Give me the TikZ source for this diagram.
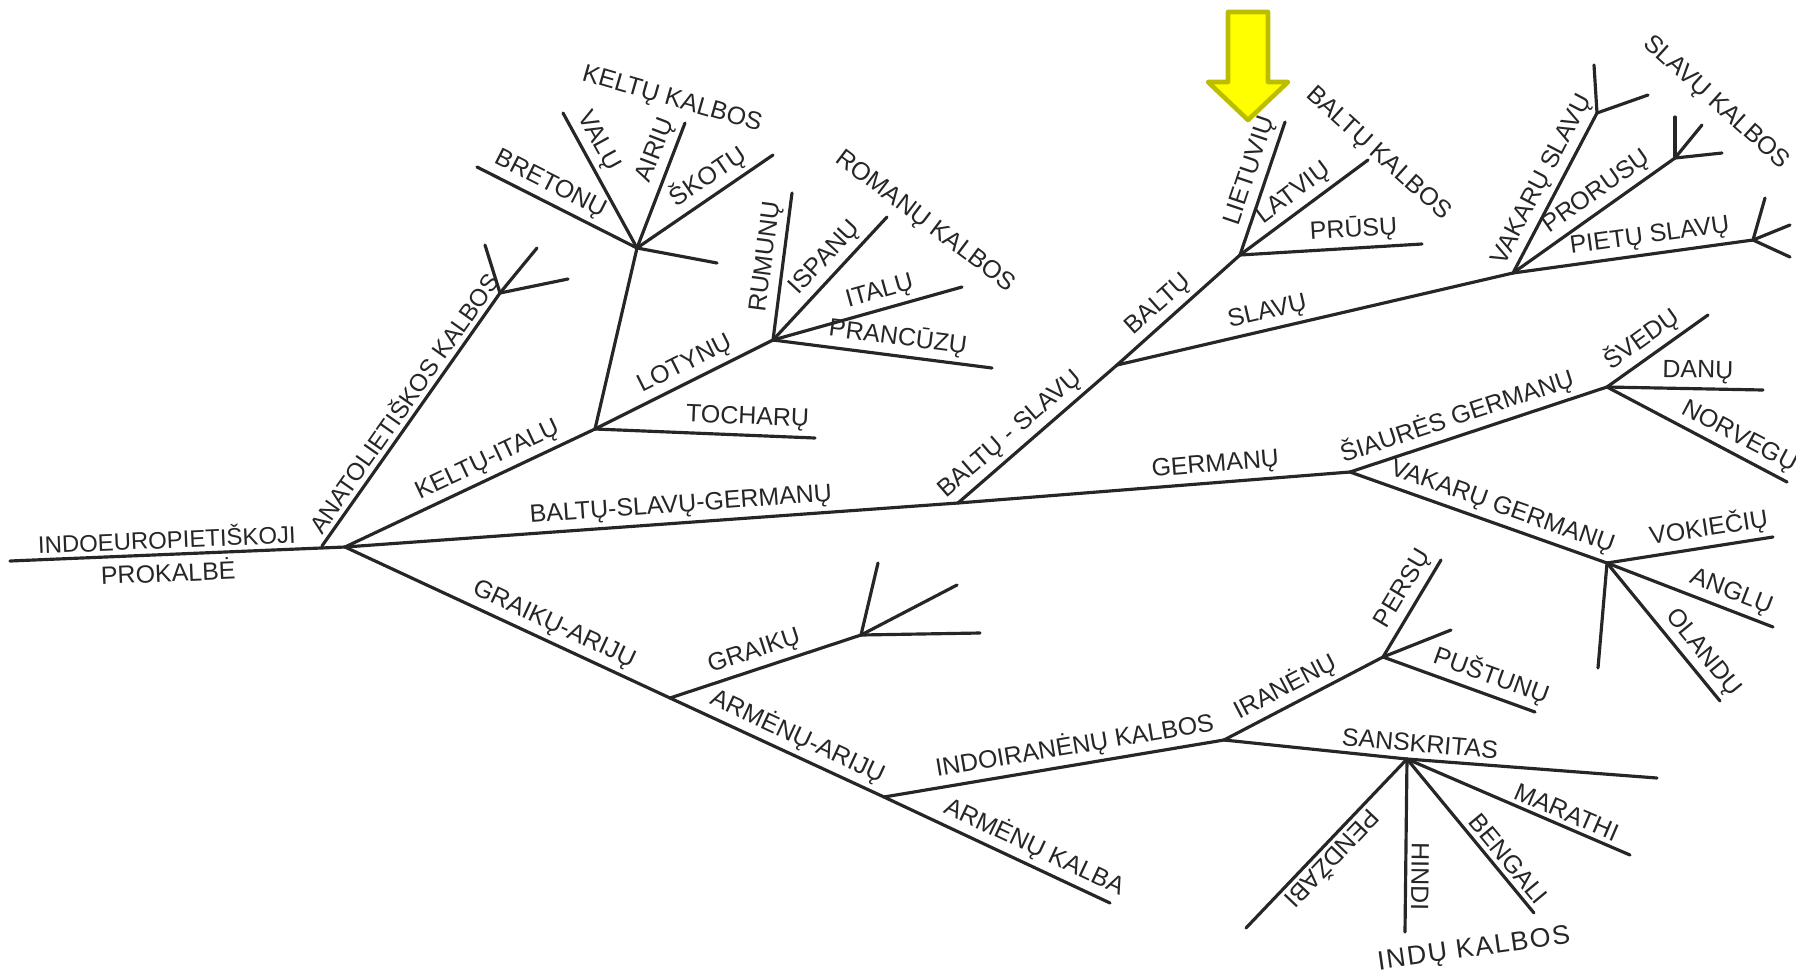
\documentclass[tikz,border=0pt]{standalone}
\usepackage{fontspec}
\setmainfont{Liberation Sans}
\definecolor{ink}{HTML}{262626}
\definecolor{arrfill}{HTML}{FFFF00}
\definecolor{arrline}{HTML}{BDBD00}

\begin{document}
\begin{tikzpicture}[
  x=0.01cm, y=-0.01cm,
  br/.style={draw=ink, line width=0.9pt, line cap=round},
  lb/.style={font=\fontsize{7.1}{8}\selectfont, text=ink, inner sep=1.2pt,
             sloped, above},
  grp/.style={font=\fontsize{7.1}{8}\selectfont, text=ink, inner sep=0pt},
  arr/.style={fill=arrfill, draw=arrline, line width=1.3pt, line join=round}
]
  \useasboundingbox (0,0) rectangle (1796,975);

  % trunk and first splits
  \coordinate (st)  at (10,561);
  \coordinate (pie) at (345,547);
  \coordinate (anb) at (322,546);
  \coordinate (ana) at (500,293);
  \coordinate (an1) at (485,245);
  \coordinate (an2) at (537,248);
  \coordinate (an3) at (568,279);

  % celtic, italic, tocharian
  \coordinate (ki)  at (595,429);
  \coordinate (kel) at (637,248);
  \coordinate (bre) at (477,167);
  \coordinate (val) at (563,113);
  \coordinate (air) at (685,123);
  \coordinate (sko) at (773,155);
  \coordinate (kx)  at (717,263);
  \coordinate (lot) at (773,340);
  \coordinate (toc) at (815,438);
  \coordinate (rum) at (792,193);
  \coordinate (isp) at (887,217);
  \coordinate (ita) at (962,287);
  \coordinate (pra) at (992,368);

  % balto-slavic, germanic
  \coordinate (bsg) at (958,503);
  \coordinate (bs)  at (1117,365);
  \coordinate (bal) at (1240,255);
  \coordinate (lie) at (1285,122);
  \coordinate (lat) at (1368,160);
  \coordinate (pru) at (1422,244);
  \coordinate (sla) at (1513,273);
  \coordinate (vs)  at (1597,113);
  \coordinate (vs1) at (1594,65);
  \coordinate (vs2) at (1648,95);
  \coordinate (pr)  at (1675,158);
  \coordinate (pr1) at (1675,117);
  \coordinate (pr2) at (1702,125);
  \coordinate (pr3) at (1722,153);
  \coordinate (ps)  at (1753,240);
  \coordinate (ps1) at (1765,198);
  \coordinate (ps2) at (1790,225);
  \coordinate (ps3) at (1790,257);
  \coordinate (ger) at (1350,472);
  \coordinate (sg)  at (1607,387);
  \coordinate (sve) at (1708,315);
  \coordinate (dan) at (1763,390);
  \coordinate (nor) at (1787,482);
  \coordinate (vg)  at (1607,563);
  \coordinate (vok) at (1773,537);
  \coordinate (ang) at (1773,627);
  \coordinate (ola) at (1720,701);
  \coordinate (vx)  at (1598,668);

  % greek, armenian, indo-iranian
  \coordinate (ga)  at (670,698);
  \coordinate (gr)  at (861,635);
  \coordinate (gr1) at (878,563);
  \coordinate (gr2) at (957,585);
  \coordinate (gr3) at (980,633);
  \coordinate (aa)  at (884,797);
  \coordinate (arm) at (1110,903);
  \coordinate (ii)  at (1224,740);
  \coordinate (ir)  at (1383,657);
  \coordinate (per) at (1441,560);
  \coordinate (ix)  at (1451,630);
  \coordinate (pus) at (1535,712);
  \coordinate (skt) at (1407,759);
  \coordinate (sx)  at (1657,778);
  \coordinate (mar) at (1630,855);
  \coordinate (ben) at (1534,913);
  \coordinate (hin) at (1405,932);
  \coordinate (pen) at (1246,928);

  \draw[br] (st) -- node[lb, pos=.47, font=\fontsize{6.8}{8}\selectfont] (lPie) {INDOEUROPIETIŠKOJI}
                    node[lb, below, pos=.47] (lPro) {PROKALBĖ} (pie);
  \draw[br] (anb) -- node[lb, pos=.53, font=\fontsize{6.9}{8}\selectfont] (lAna) {ANATOLIETIŠKOS KALBOS} (ana);
  \foreach \p in {an1,an2,an3} \draw[br] (ana) -- (\p);

  \draw[br] (pie) -- node[lb, pos=.6] (lKI) {KELTŲ-ITALŲ} (ki);
  \draw[br] (ki) -- (kel);
  \draw[br] (bre) -- node[lb, pos=.41] (lBre) {BRETONŲ} (kel);
  \draw[br] (val) -- node[lb, pos=.27] (lVal) {VALŲ} (kel);
  \draw[br] (kel) -- node[lb, pos=.73] (lAir) {AIRIŲ} (air);
  \draw[br] (kel) -- node[lb, pos=.6] (lSko) {ŠKOTŲ} (sko);
  \draw[br] (kel) -- (kx);
  \draw[br] (ki) -- node[lb, pos=.55] (lLot) {LOTYNŲ} (lot);
  \draw[br] (ki) -- node[lb, pos=.69] (lToc) {TOCHARŲ} (toc);
  \draw[br] (lot) -- node[lb, pos=.55] (lRum) {RUMUNŲ} (rum);
  \draw[br] (lot) -- node[lb, pos=.57] (lIsp) {ISPANŲ} (isp);
  \draw[br] (lot) -- node[lb, pos=.59] (lIta) {ITALŲ} (ita);
  \draw[br] (lot) -- node[lb, pos=.56] (lPra) {PRANCŪZŲ} (pra);

  \draw[br] (pie) -- node[lb, pos=.55] (lBSG) {BALTŲ-SLAVŲ-GERMANŲ} (bsg);
  \draw[br] (bsg) -- node[lb, pos=.4] (lBS) {BALTŲ - SLAVŲ} (bs);
  \draw[br] (bs) -- node[lb, pos=.43] (lBal) {BALTŲ} (bal);
  \draw[br] (bal) -- node[lb, pos=.59] (lLie) {LIETUVIŲ} (lie);
  \draw[br] (bal) -- node[lb, pos=.5] (lLat) {LATVIŲ} (lat);
  \draw[br] (bal) -- node[lb, pos=.63] (lPru) {PRŪSŲ} (pru);
  \draw[br] (bs) -- node[lb, pos=.39] (lSla) {SLAVŲ} (sla);
  \draw[br] (sla) -- node[lb, pos=.53] (lVS) {VAKARŲ SLAVŲ} (vs);
  \draw[br] (sla) -- node[lb, pos=.58] (lPr) {PRORUSŲ} (pr);
  \draw[br] (sla) -- node[lb, pos=.58] (lPS) {PIETŲ SLAVŲ} (ps);
  \foreach \p in {vs1,vs2} \draw[br] (vs) -- (\p);
  \foreach \p in {pr1,pr2,pr3} \draw[br] (pr) -- (\p);
  \foreach \p in {ps1,ps2,ps3} \draw[br] (ps) -- (\p);

  \draw[br] (bsg) -- node[lb, pos=.66] (lGer) {GERMANŲ} (ger);
  \draw[br] (ger) -- node[lb, pos=.44] (lSG) {ŠIAURĖS GERMANŲ} (sg);
  \draw[br] (ger) -- node[lb, pos=.57] (lVG) {VAKARŲ GERMANŲ} (vg);
  \draw[br] (sg) -- node[lb, pos=.45] (lSve) {ŠVEDŲ} (sve);
  \draw[br] (sg) -- node[lb, pos=.58] (lDan) {DANŲ} (dan);
  \draw[br] (sg) -- node[lb, pos=.69] (lNor) {NORVEGŲ} (nor);
  \draw[br] (vg) -- node[lb, pos=.63] (lVok) {VOKIEČIŲ} (vok);
  \draw[br] (vg) -- node[lb, pos=.71] (lAng) {ANGLŲ} (ang);
  \draw[br] (vg) -- node[lb, pos=.73] (lOla) {OLANDŲ} (ola);
  \draw[br] (vg) -- (vx);

  \draw[br] (pie) -- node[lb, pos=.62] (lGA) {GRAIKŲ-ARIJŲ} (ga);
  \draw[br] (ga) -- node[lb, pos=.47] (lGr) {GRAIKŲ} (gr);
  \foreach \p in {gr1,gr2,gr3} \draw[br] (gr) -- (\p);
  \draw[br] (ga) -- node[lb, pos=.56] (lAA) {ARMĖNŲ-ARIJŲ} (aa);
  \draw[br] (aa) -- node[lb, pos=.63] (lArm) {ARMĖNŲ KALBA} (arm);
  \draw[br] (aa) -- node[lb, pos=.57] (lII) {INDOIRANĖNŲ KALBOS} (ii);
  \draw[br] (ii) -- node[lb, pos=.44] (lIr) {IRANĖNŲ} (ir);
  \draw[br] (ir) -- node[lb, pos=.61] (lPer) {PERSŲ} (per);
  \draw[br] (ir) -- (ix);
  \draw[br] (ir) -- node[lb, pos=.67] (lPus) {PUŠTUNŲ} (pus);
  \draw[br] (ii) -- (skt) -- (sx);
  \path (ii) -- node[lb, pos=.45] (lSkt) {SANSKRITAS} (sx);
  \draw[br] (skt) -- node[lb, pos=.69] (lMar) {MARATHI} (mar);
  \draw[br] (skt) -- node[lb, pos=.71] (lBen) {BENGALI} (ben);
  \draw[br] (skt) -- node[lb, allow upside down, pos=.68] (lHin) {HINDI} (hin);
  \draw[br] (skt) -- node[lb, allow upside down, pos=.53] (lPen) {PENDŽABI} (pen);

  \node[grp, rotate=-16] (kk) at (672,100) {KELTŲ KALBOS};
  \node[grp, rotate=-37] (rk) at (925,222) {ROMANŲ KALBOS};
  \node[grp, rotate=-42] (bk) at (1378,154) {BALTŲ KALBOS};
  \node[grp, rotate=-42] (sk) at (1716,103) {SLAVŲ KALBOS};
  \node[grp, rotate=8, font=\fontsize{7.6}{9}\selectfont\addfontfeature{LetterSpace=6}]
    (ik) at (1474,950) {INDŲ KALBOS};

  \draw[arr] (1228,12) -- (1268,12) -- (1268,82) -- (1288,82) -- (1248,120)
             -- (1208,82) -- (1228,82) -- cycle;
\end{tikzpicture}
\end{document}
